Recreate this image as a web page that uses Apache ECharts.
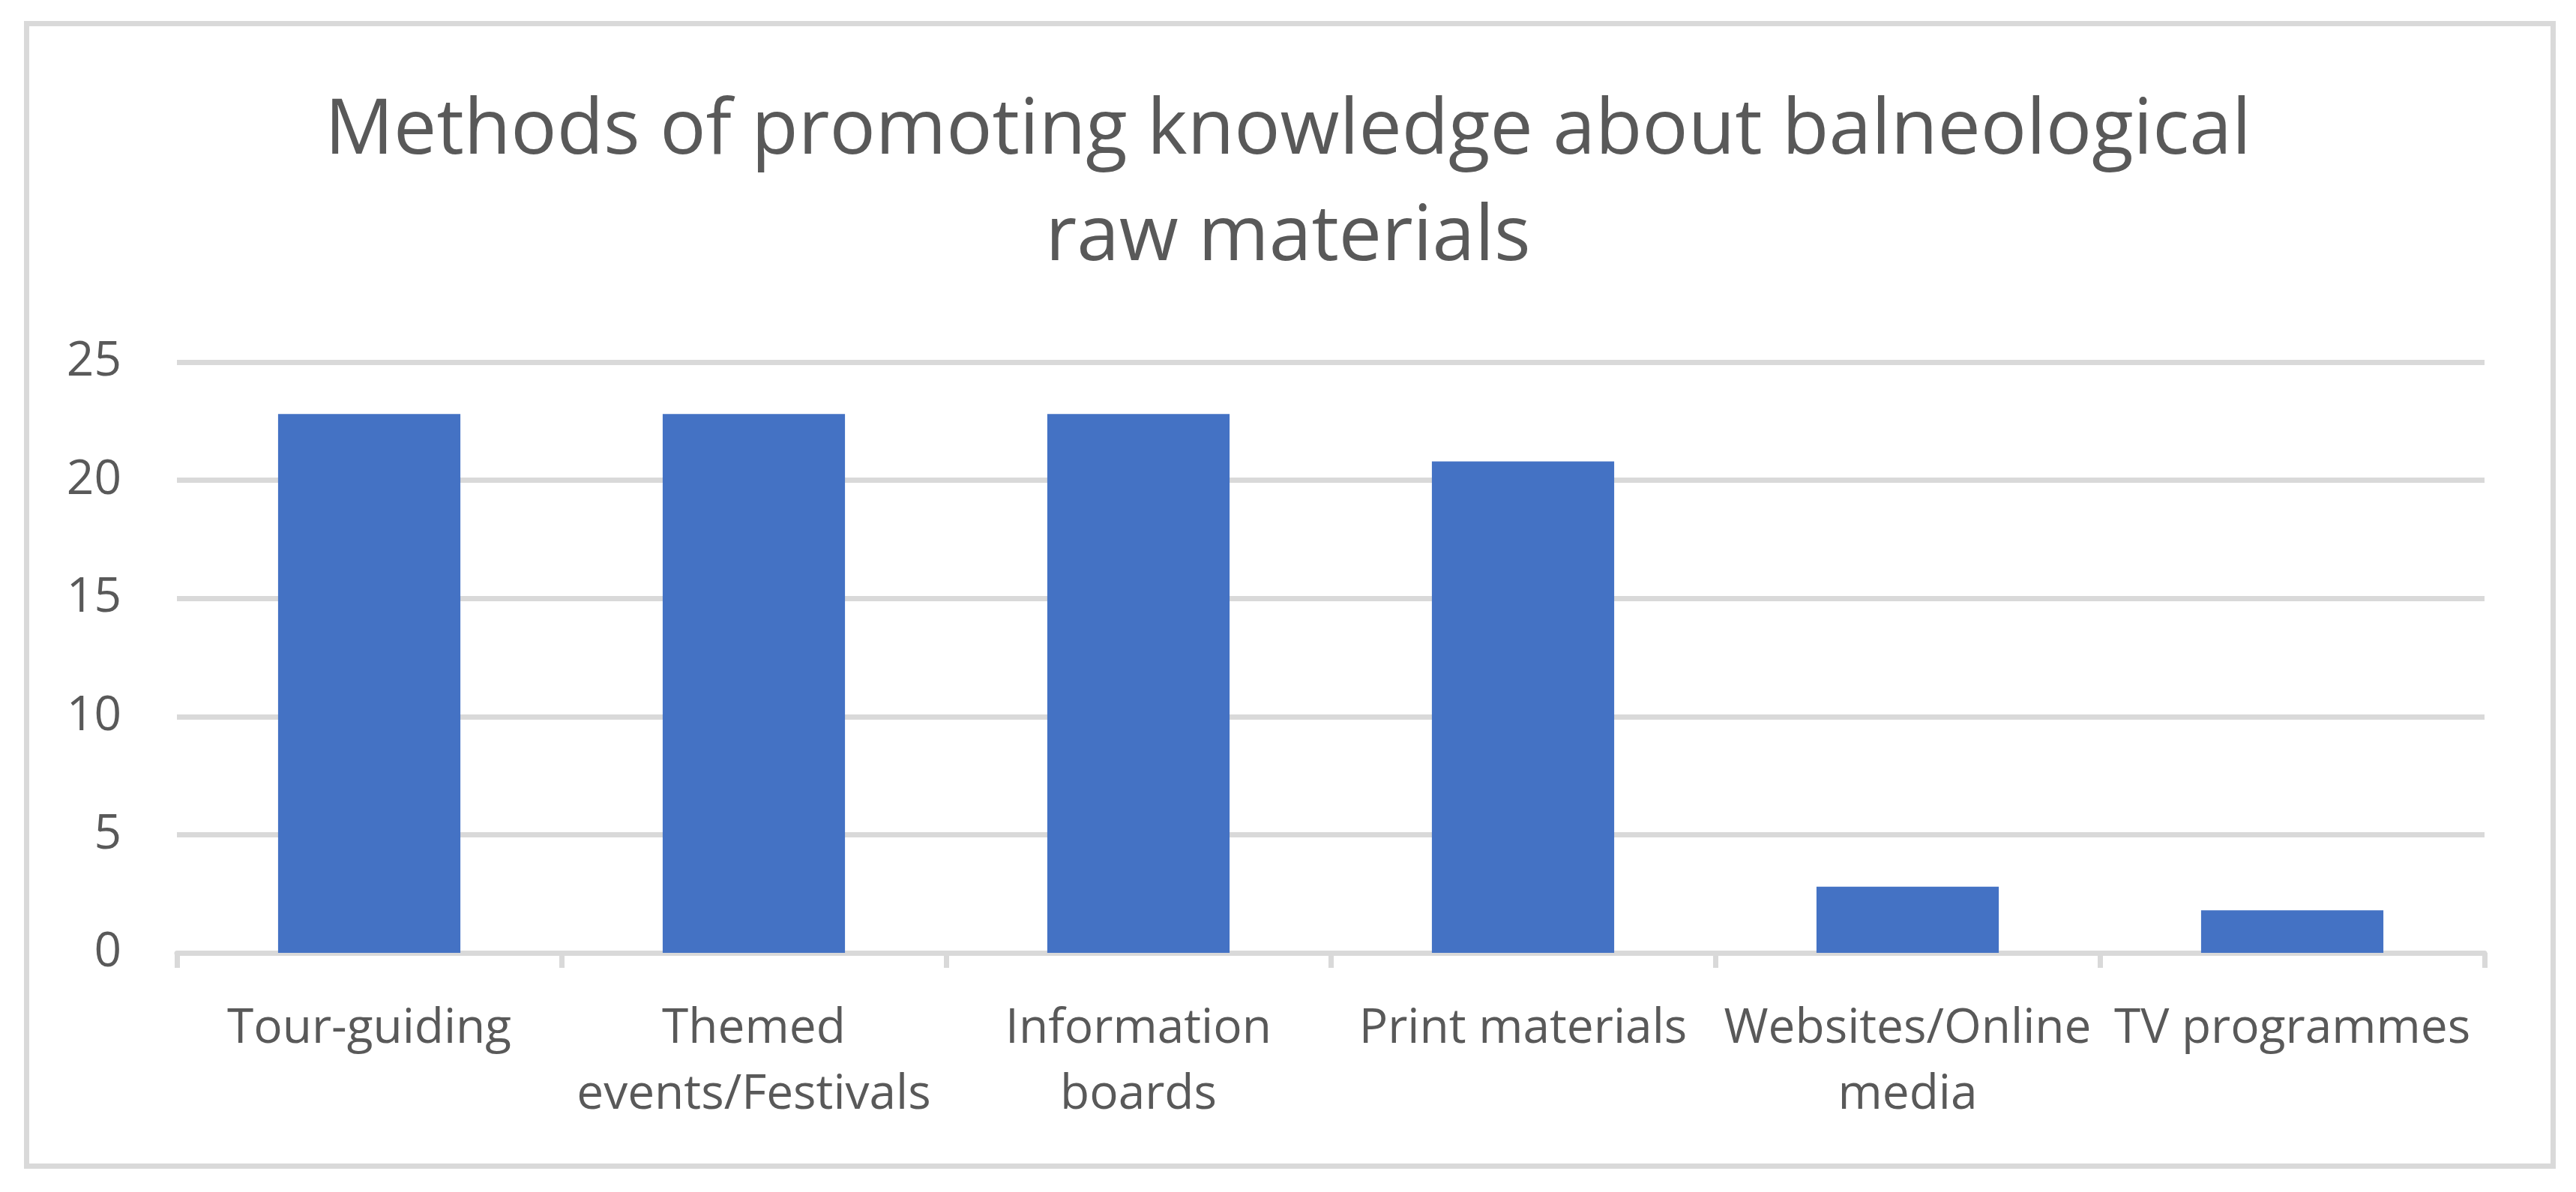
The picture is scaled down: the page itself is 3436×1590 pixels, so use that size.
<!DOCTYPE html>
<html>
<head>
<meta charset="utf-8">
<script src="https://cdn.jsdelivr.net/npm/echarts@6/dist/echarts.min.js"></script>
<style>
  html, body { margin: 0; padding: 0; background: #fff; }
  #chart { width: 3436px; height: 1590px; }
</style>
</head>
<body>
<div id="chart"></div>
<script>
var titleText = 'Methods of promoting knowledge about balneological\nraw materials';
var categories = ['Tour-guiding', 'Themed\nevents/Festivals', 'Information\nboards', 'Print materials', 'Websites/Online\nmedia', 'TV programmes'];
var counts = [22.8, 22.8, 22.8, 20.8, 2.8, 1.8];
var yTicks = { min: 0, max: 25, step: 5 };

var textColor = '#595959',
  lineColor = '#d9d9d9',
  font = 'Open Sans';

var chart = echarts.init(document.getElementById('chart'), null, { renderer: 'canvas' });

chart.setOption({
  animation: false,
  backgroundColor: '#fff',
  title: {
    text: titleText,
    left: 'center',
    top: 100,
    textStyle: {
      color: textColor,
      fontFamily: font,
      fontWeight: 'normal',
      fontSize: 102,
      lineHeight: 142
    }
  },
  graphic: [{
    type: 'rect',
    shape: { x: 35.5, y: 31.5, width: 3370, height: 1524 },
    style: { fill: 'none', stroke: lineColor, lineWidth: 7 },
    silent: true
  }],
  grid: { left: 236, right: 122, top: 483, bottom: 319 },
  xAxis: {
    type: 'category',
    data: categories,
    axisLine: { lineStyle: { color: lineColor, width: 7 } },
    axisTick: { show: true, length: 20, lineStyle: { color: lineColor, width: 7 } },
    axisLabel: {
      interval: 0,
      margin: 58,
      color: textColor,
      fontFamily: font,
      fontSize: 64,
      lineHeight: 88
    }
  },
  yAxis: {
    type: 'value',
    min: yTicks.min,
    max: yTicks.max,
    interval: yTicks.step,
    axisLine: { show: false },
    axisTick: { show: false },
    splitLine: { lineStyle: { color: lineColor, width: 7 } },
    axisLabel: {
      margin: 74,
      color: textColor,
      fontFamily: font,
      fontSize: 64
    }
  },
  series: [{
    type: 'bar',
    data: counts,
    barCategoryGap: '52.6%',
    itemStyle: { color: '#4472c4' }
  }]
});
</script>
</body>
</html>
